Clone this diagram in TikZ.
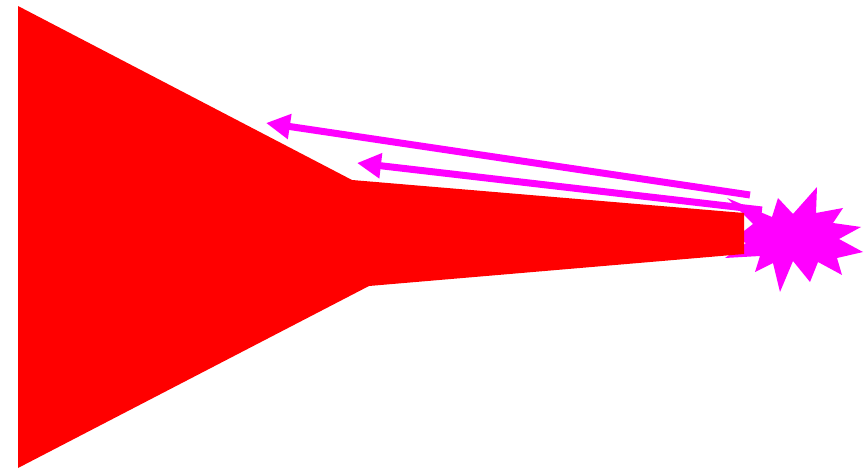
\documentclass[tikz,border=0pt]{standalone}
\usetikzlibrary{arrows.meta}
\definecolor{mag}{RGB}{255,0,255}
\begin{document}
\begin{tikzpicture}[x=1pt,y=-1pt,
  arrowline/.style={draw=mag,line width=7pt,-{Triangle[length=24pt,width=24pt]}}]
\useasboundingbox (0,0) rectangle (868,470);
% star
\fill[mag] (817,187) -- (816,213) -- (843,208) -- (833,223) -- (861,227) -- (839,239)
  -- (863,252) -- (837,258) -- (842,275) -- (818,262) -- (810,282) -- (793,261)
  -- (780,292) -- (773,263) -- (755,272) -- (760,256) -- (725,258) -- (746,243)
  -- (735,238) -- (753,224) -- (727,198) -- (772,217) -- (778,198) -- (793,214) -- cycle;
\coordinate (s1) at (750,195);
\coordinate (s2) at (762,210);
% red funnel
\fill[red] (18,6) -- (352,180) -- (744,213) -- (744,254) -- (369,286) -- (18,468) -- cycle;
\coordinate (t1) at (266,123);
\coordinate (t2) at (357,163);
\draw[arrowline] (s1) -- (t1);
\draw[arrowline] (s2) -- (t2);
\end{tikzpicture}
\end{document}
